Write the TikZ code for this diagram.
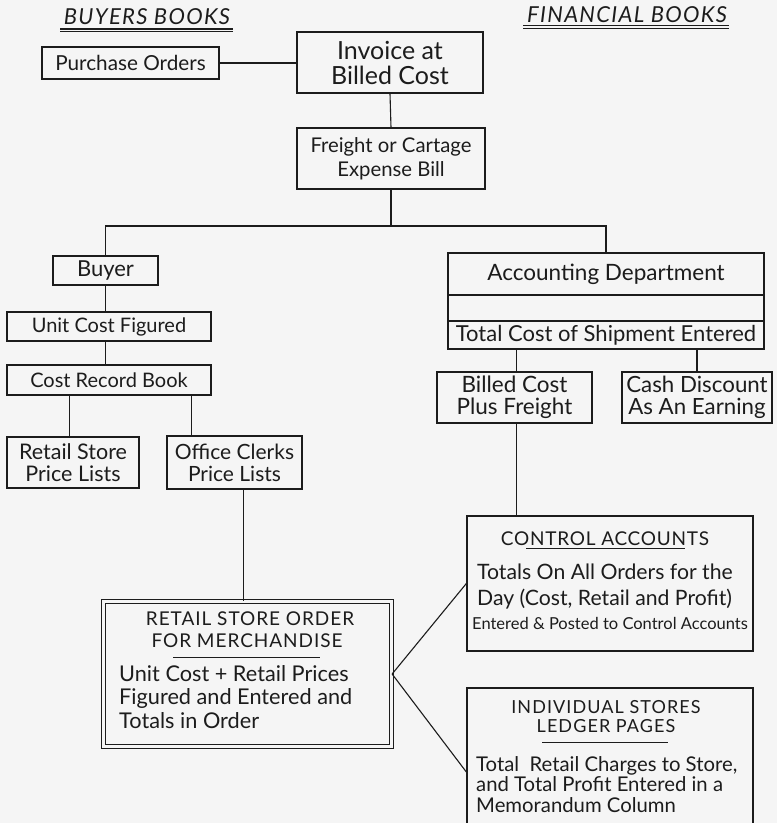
\documentclass[tikz,border=0pt]{standalone}
\usepackage{fontspec}
\setmainfont{Lato}
\usetikzlibrary{calc}
\definecolor{ink}{RGB}{28,28,28}
\definecolor{paper}{RGB}{245,245,245}
\begin{document}
\begin{tikzpicture}[x=1pt,y=-1pt,
  box/.style={draw=ink, line width=1.3pt, inner sep=0pt, align=center, text=ink},
  conn/.style={draw=ink, line width=1.1pt},
  lbl/.style={inner sep=0pt, text=ink},
  uline/.style={draw=ink, line width=1pt},
  hdr/.style={lbl, font=\fontsize{22}{26}\selectfont\itshape\addfontfeatures{LetterSpace=6}}]
\useasboundingbox (0,0) rectangle (777,823);
\fill[paper] (0,0) rectangle (777,823);
\clip (0,0) rectangle (777,823);

% headers
\node[hdr] (hbuy) at (147,17) {BUYERS BOOKS};
\draw[uline, line width=1.4pt] (60,29) -- (233,29);
\draw[uline, line width=0.7pt] (60,31.8) -- (233,31.8);
\node[hdr] (hfin) at (627,15) {FINANCIAL BOOKS};
\draw[uline, line width=1.4pt] (523,25.5) -- (729,25.5);
\draw[uline, line width=0.7pt] (523,28.3) -- (729,28.3);

% top chain
\node[box, minimum width=177, minimum height=32, font=\fontsize{20.7}{24}\selectfont] (po) at (130.5,63) {Purchase Orders};
\node[box, minimum width=186, minimum height=61, font=\fontsize{25}{25}\selectfont] (inv) at (390,62.5) {Invoice at\\Billed Cost};
\node[box, minimum width=188, minimum height=61, font=\fontsize{20.3}{24}\selectfont] (fr) at (391,158.5) {Freight or Cartage\\Expense Bill};

\coordinate (bl) at (104,226);
\coordinate (br) at (606,226);

% buyer side
\node[box, minimum width=105, minimum height=29, font=\fontsize{22}{24}\selectfont] (buy) at (105.5,270.5) {Buyer};
\node[box, minimum width=204, minimum height=29, font=\fontsize{20}{24}\selectfont] (ucf) at (109,326.5) {Unit Cost Figured};
\node[box, minimum width=204, minimum height=30, font=\fontsize{20}{24}\selectfont] (crb) at (109,380) {Cost Record Book};
\node[box, minimum width=132, minimum height=51, font=\fontsize{21.5}{22}\selectfont] (rsp) at (73,462.5) {Retail Store\\Price Lists};
\node[box, minimum width=135, minimum height=53, font=\fontsize{21}{22}\selectfont] (ocp) at (234.5,462.5) {Office Clerks\\Price Lists};

% accounting side
\node[box, minimum width=316, minimum height=42, font=\fontsize{22.5}{24}\selectfont] (acc1) at (606,274) {Accounting Department};
\node[box, minimum width=316, minimum height=26] (acc2) at (606,308) {};
\node[box, minimum width=316, minimum height=28, font=\fontsize{22}{24}\selectfont] (acc3) at (606,335) {Total Cost of Shipment Entered};
\node[box, minimum width=155, minimum height=51, font=\fontsize{22.5}{22}\selectfont] (bcf) at (514.5,397.5) {Billed Cost\\Plus Freight};
\node[box, minimum width=150, minimum height=51, font=\fontsize{22.3}{22}\selectfont] (cde) at (697,397.5) {Cash Discount\\As An Earning};

% retail store order (double border)
\node[box, double=paper, double distance=3.5pt, line width=1.2pt, minimum width=288, minimum height=145] (rso) at (247.5,674) {};
\node[lbl, font=\fontsize{19}{22}\selectfont\addfontfeatures{LetterSpace=5}, anchor=base] (rsoh1) at (250,625.5) {RETAIL STORE ORDER};
\node[lbl, font=\fontsize{19}{22}\selectfont\addfontfeatures{LetterSpace=5}, anchor=base] (rsoh2) at (247,647.5) {FOR MERCHANDISE};
\draw[uline] (173,657) -- (320,657);
\node[lbl, font=\fontsize{21.7}{22}\selectfont, anchor=base west] (rsob1) at (119,681.5) {Unit Cost + Retail Prices};
\node[lbl, font=\fontsize{21.7}{22}\selectfont, anchor=base west] (rsob2) at (119,704.5) {Figured and Entered and};
\node[lbl, font=\fontsize{21.7}{22}\selectfont, anchor=base west] (rsob3) at (119,728.5) {Totals in Order};

% control accounts
\node[box, minimum width=286, minimum height=135] (ctl) at (610,583.5) {};
\node[lbl, font=\fontsize{19}{22}\selectfont\addfontfeatures{LetterSpace=4}, anchor=base] (ctlh) at (605,545) {CONTROL ACCOUNTS};
\draw[uline] (526,548.5) -- (685,548.5);
\node[lbl, font=\fontsize{21.2}{22}\selectfont, anchor=base west] (ctlb1) at (477,579) {Totals On All Orders for the};
\node[lbl, font=\fontsize{21.2}{22}\selectfont, anchor=base west] (ctlb2) at (477,605) {Day (Cost, Retail and Profit)};
\node[lbl, font=\fontsize{16.5}{20}\selectfont, anchor=base west] (ctlb3) at (472,629) {Entered \& Posted to Control Accounts};

% individual stores
\node[box, minimum width=286, minimum height=168] (ind) at (610,772) {};
\node[lbl, font=\fontsize{18}{20}\selectfont\addfontfeatures{LetterSpace=6}, anchor=base] (indh1) at (606,713.5) {INDIVIDUAL STORES};
\node[lbl, font=\fontsize{18}{20}\selectfont\addfontfeatures{LetterSpace=6}, anchor=base] (indh2) at (606,732.5) {LEDGER PAGES};
\draw[uline] (542,742) -- (668,742);
\node[lbl, font=\fontsize{20.3}{22}\selectfont, anchor=base west] (indb1) at (476,771.5) {Total\ \ Retail Charges to Store,};
\node[lbl, font=\fontsize{20.3}{22}\selectfont, anchor=base west] (indb2) at (476,791.5) {and Total Profit Entered in a};
\node[lbl, font=\fontsize{20.3}{22}\selectfont, anchor=base west] (indb3) at (476,812.5) {Memorandum Column};

% connectors
\draw[conn] (po.east) -- (po.east -| inv.west);
\draw[conn] (inv.south) -- (fr.north);
\draw[conn] (fr.south) -- (fr.south |- bl);
\draw[conn] (buy.north) -- (buy.north |- bl) -- (acc1.north |- br) -- (acc1.north);
\draw[conn] (buy.south) -- (buy.south |- ucf.north);
\draw[conn] (ucf.south -| buy.south) -- (buy.south |- crb.north);
\coordinate (rspin) at ($(rsp.north west)+(63,0)$);
\draw[conn] (rspin) -- (rspin |- crb.south);
\coordinate (ocpin) at ($(ocp.north west)+(25,0)$);
\draw[conn] (ocpin) -- (ocpin |- crb.south);
\coordinate (ocpout) at ($(ocp.south west)+(77.5,0)$);
\draw[conn] (ocpout) -- (ocpout |- rso.north);
\coordinate (bcfin) at ($(bcf.north west)+(80,0)$);
\draw[conn] (bcfin) -- (bcfin |- acc3.south);
\draw[conn] (cde.north) -- (cde.north |- acc3.south);
\draw[conn] (bcfin |- bcf.south) -- (bcfin |- ctl.north);
\draw[conn] (rso.east) -- (ctl.west);
\draw[conn] (rso.east) -- (ind.west);
\end{tikzpicture}
\end{document}
